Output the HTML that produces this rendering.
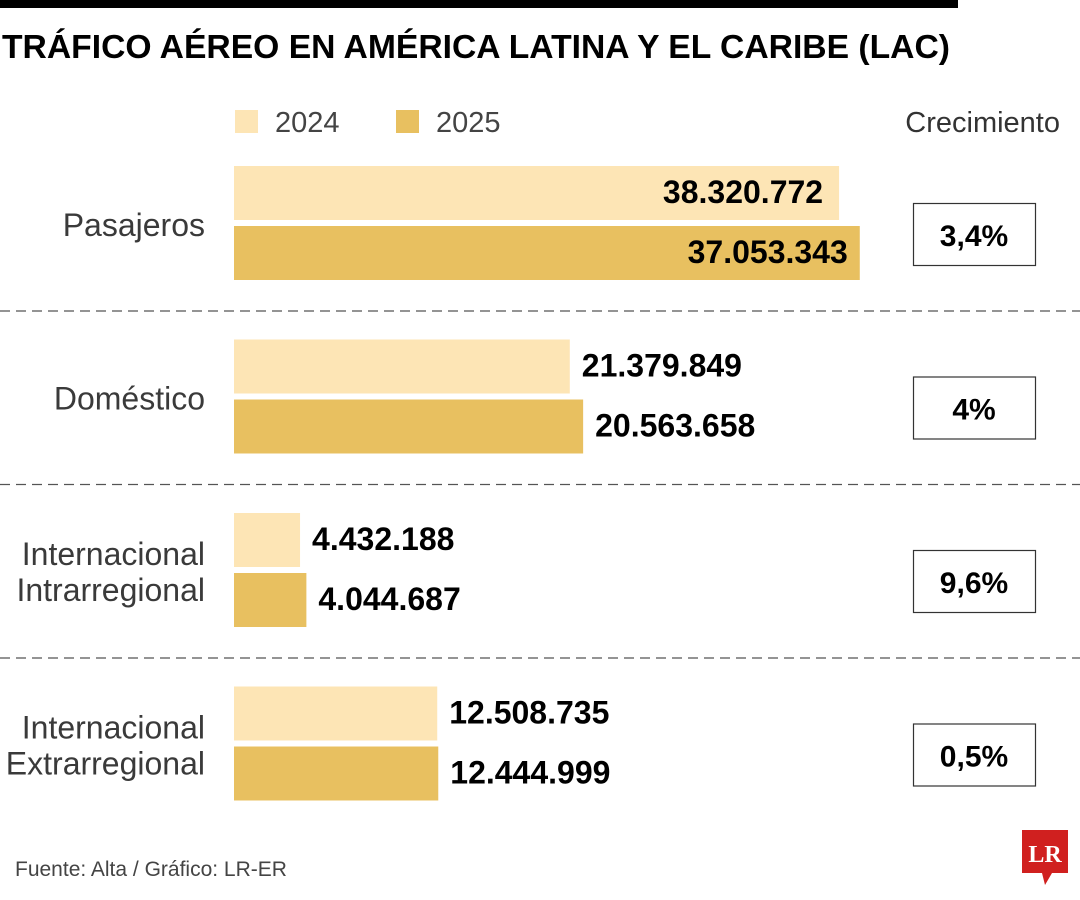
<!DOCTYPE html>
<html><head><meta charset="utf-8"><style>
html,body{margin:0;padding:0;background:#fff}
svg{display:block;font-family:"Liberation Sans Narrow","Liberation Sans",sans-serif}
</style></head><body>
<svg id="chart" width="1080" height="900" viewBox="0 0 1080 900">
<rect x="0" y="0" width="958" height="8" fill="#000"/>
<text x="2" y="58" font-size="33" font-weight="bold" textLength="948" lengthAdjust="spacingAndGlyphs">TRÁFICO AÉREO EN AMÉRICA LATINA Y EL CARIBE (LAC)</text>
<rect x="235" y="110" width="23" height="23" fill="#fde5b5"/>
<text x="275" y="132" font-size="29" fill="#444">2024</text>
<rect x="396" y="110" width="23" height="23" fill="#e8c060"/>
<text x="436" y="132" font-size="29" fill="#444">2025</text>
<text x="1060" y="132" font-size="29" fill="#333" text-anchor="end">Crecimiento</text>
<g id="rows"></g>
<text x="15" y="876" font-size="21" fill="#444">Fuente: Alta / Gráfico: LR-ER</text>
<g>
<path d="M1022 830 H1068 V873 H1052 L1045 885 L1042 873 H1022 Z" fill="#d0201f"/>
<text x="1045" y="862" font-size="24" font-weight="bold" fill="#fff" text-anchor="middle" font-family="Liberation Serif,serif">LR</text>
</g>
</svg>
<script>
const categories = [["Pasajeros"], ["Doméstico"], ["Internacional","Intrarregional"], ["Internacional","Extrarregional"]];
const labels2024 = [38320772, 21379849, 4432188, 12508735];
const labels2025 = [37053343, 20563658, 4044687, 12444999];
const growth = ["3,4%", "4%", "9,6%", "0,5%"];
// Bar lengths as drawn in the original graphic (light bar = 2025 figure, dark = 2024 figure)
const barLight = labels2025;
const barDark = labels2024;

const NS = "http://www.w3.org/2000/svg";
const x0 = 234, pxPerUnit = 16.33 / 1e6;
const xs = v => v * pxPerUnit;
const rowTop = i => 166 + i * 173.5;
const fmt = n => String(n).replace(/\B(?=(\d{3})+(?!\d))/g, ".");
const g = document.getElementById("rows");
function mk(tag, attrs, text){
  const e = document.createElementNS(NS, tag);
  for (const k in attrs) e.setAttribute(k, attrs[k]);
  if (text !== undefined) e.textContent = text;
  g.appendChild(e); return e;
}
categories.forEach((cat, i) => {
  const y = rowTop(i);
  const wL = xs(barLight[i]), wD = xs(barDark[i]);
  const b1 = mk("rect", {x: x0, y: y, width: wL, height: 54, fill: "#fde5b5"});
  
  
  const b2 = mk("rect", {x: x0, y: y + 60, width: wD, height: 54, fill: "#e8c060"});
  
  
  const inside = i === 0;
  const t1 = mk("text", inside ? {x: x0 + wL - 16, y: y + 37, "text-anchor": "end"} : {x: x0 + wL + 12, y: y + 37},
    fmt(labels2024[i]));
  t1.setAttribute("font-size", "32"); t1.setAttribute("font-weight", "bold");
  
  
  const t2 = mk("text", inside ? {x: x0 + wD - 12, y: y + 97, "text-anchor": "end"} : {x: x0 + wD + 12, y: y + 97},
    fmt(labels2025[i]));
  t2.setAttribute("font-size", "32"); t2.setAttribute("font-weight", "bold");
  
  
  if (cat.length === 1) {
    const c = mk("text", {x: 205, y: y + 70, "text-anchor": "end", "font-size": "32", fill: "#3a3a3a"}, cat[0]);
    
    
  } else {
    cat.forEach((line, j) => {
      const c = mk("text", {x: 205, y: y + 52 + j * 36, "text-anchor": "end", "font-size": "32", fill: "#3a3a3a"}, line);
      
      
    });
  }
  const box = mk("rect", {x: 913.5, y: y + 37.5, width: 122, height: 62, fill: "#fff", stroke: "#333", "stroke-width": "1.2"});
  
  
  const gt = mk("text", {x: 974, y: y + 80, "text-anchor": "middle", "font-size": "30", "font-weight": "bold"}, growth[i]);
  
  
  if (i < categories.length - 1) {
    const ly = y + 145;
    const d = mk("line", {x1: 0, x2: 1080, y1: ly, y2: ly, stroke: "#555", "stroke-width": "1.3", "stroke-dasharray": "10 6"});
    
    
  }
});
</script>
</body></html>
